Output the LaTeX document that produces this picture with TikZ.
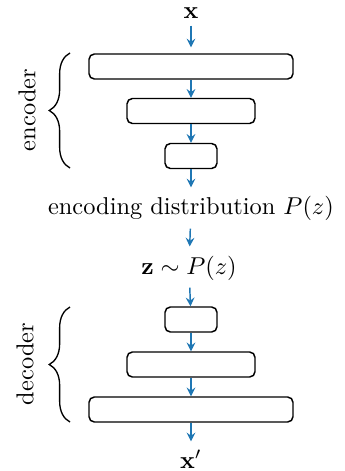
\documentclass[tikz,border=0pt]{standalone}
\usetikzlibrary{arrows.meta,decorations.pathreplacing}
\definecolor{arrblue}{HTML}{1F77B4}
\begin{document}
\begin{tikzpicture}[x=0.41pt,y=-0.41pt,
  box/.style={draw, line width=0.6pt, rounded corners=2.2pt, minimum height=25*0.41pt, inner sep=0pt},
  txt/.style={inner sep=0pt, anchor=base},
  flow/.style={draw=arrblue, line width=0.6pt, -{Stealth[length=3.6pt,width=3.6pt,inset=1.3pt]}},
  brc/.style={decorate, decoration={brace, amplitude=8.5pt}, line width=0.55pt}]
\useasboundingbox (0,0) rectangle (345,471);
% text nodes
\node[txt] (x) at (191,18) {$\mathbf{x}$};
\node[txt] (enc) at (191,214) {encoding distribution $P(z)$};
\node[txt] (z) at (189,274) {$\mathbf{z}\sim P(z)$};
\node[txt] (xp) at (191,468) {$\mathbf{x}'$};
% encoder boxes
\node[box, minimum width=204*0.41pt] (e1) at (191,66.5) {};
\node[box, minimum width=128*0.41pt] (e2) at (191,111) {};
\node[box, minimum width=52*0.41pt]  (e3) at (191,156) {};
% decoder boxes
\node[box, minimum width=52*0.41pt]  (d1) at (191,319.5) {};
\node[box, minimum width=128*0.41pt] (d2) at (191,364.5) {};
\node[box, minimum width=204*0.41pt] (d3) at (191,409.5) {};
% arrows
\draw[flow, shorten <=2.9pt, shorten >=2.4pt] (x) -- (e1);
\draw[flow] (e1) -- (e2);
\draw[flow] (e2) -- (e3);
\draw[flow, shorten >=3.2pt] (e3) -- (enc);
\draw[flow, shorten <=3.3pt, shorten >=3.6pt] (enc) -- (z);
\draw[flow, shorten <=2.9pt] (z) -- (d1);
\draw[flow] (d1) -- (d2);
\draw[flow] (d2) -- (d3);
\draw[flow, shorten >=3.2pt] (d3) -- (xp);
% braces and labels
\coordinate (eb1) at (70,168);
\coordinate (eb2) at (70,53);
\coordinate (db1) at (70,422);
\coordinate (db2) at (70,307);
\draw[brc] (eb1) -- (eb2);
\draw[brc] (db1) -- (db2);
\node[rotate=90, inner sep=0pt] (encl) at (27,110) {encoder};
\node[rotate=90, inner sep=0pt] (decl) at (25,364) {decoder};
\end{tikzpicture}
\end{document}
